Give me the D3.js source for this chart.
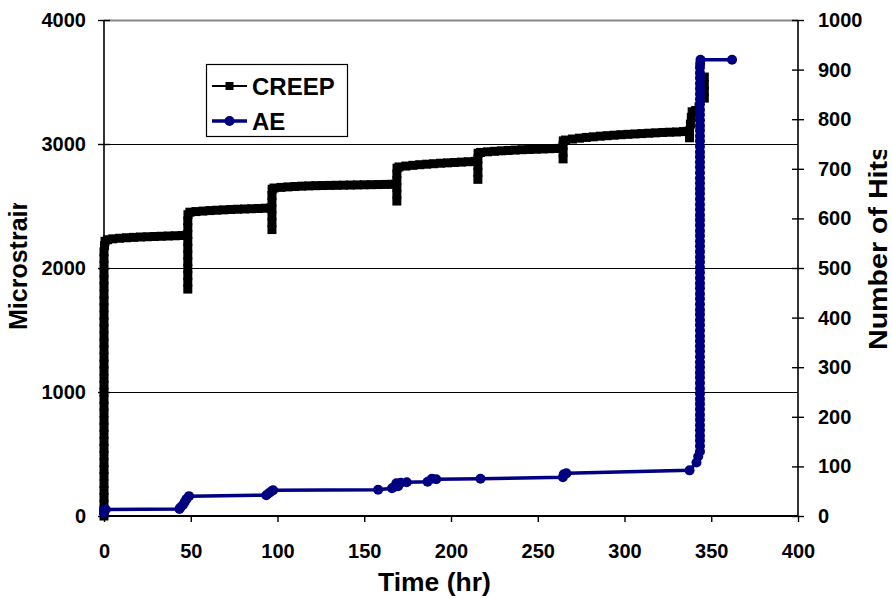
<!DOCTYPE html>
<html><head><meta charset="utf-8">
<script src="https://cdn.jsdelivr.net/npm/d3@7"></script>
<style>body{margin:0;background:#fff}svg{display:block;font-family:"Liberation Sans",Arial,sans-serif;font-weight:bold}</style>
</head><body><svg id="c" width="892" height="598"></svg>
<script>
const xTicks=[0,50,100,150,200,250,300,350,400];
const yLeftTicks=[0,1000,2000,3000,4000];
const yRightTicks=[0,100,200,300,400,500,600,700,800,900,1000];
const seriesNames=["CREEP","AE"];
// CREEP: [time (hr), microstrain]
const creepData=[
[0,0],[0,45],[0,95],[0,150],[0,205],[0,260],[0,320],[0,375],[0,430],[0,490],[0,545],[0,600],[0,660],[0,715],[0,770],[0,830],[0,885],[0,940],[0,1000],[0,1055],[0,1110],[0,1170],[0,1225],[0,1280],[0,1340],[0,1395],[0,1450],[0,1510],[0,1565],[0,1620],[0,1680],[0,1735],[0,1790],[0,1850],[0,1905],[0,1960],[0,2020],[0,2075],[0,2130],[0.3,2180],[0.6,2215],
[2,2228],[5,2235],[9,2240],[13,2244],[17,2247],[21,2250],[25,2252],[29,2254],[33,2256],[37,2258],[41,2260],[45,2262],[47.5,2264],
[48.3,1830],[48.3,1885],[48.3,1940],[48.3,1995],[48.3,2050],[48.3,2105],[48.3,2160],[48.3,2215],[48.3,2270],[48.3,2325],[48.3,2380],[48.4,2430],[49.5,2450],
[53,2455],[57,2459],[61,2463],[65,2466],[69,2469],[73,2472],[77,2474],[81,2476],[85,2478],[89,2480],[93,2482],[96,2484],
[96.8,2310],[96.8,2365],[96.8,2420],[96.8,2475],[96.8,2530],[96.8,2585],[96.9,2635],[98,2645],
[102,2650],[106,2654],[110,2657],[114,2660],[118,2662],[122,2664],[126,2665],[130,2666],[134,2667],[138,2668],[142,2669],[146,2670],[150,2671],[154,2672],[158,2673],[162,2674],[166,2675],[168,2676],
[168.8,2540],[168.8,2595],[168.8,2650],[168.8,2705],[168.8,2760],[168.9,2805],[170,2815],
[174,2822],[178,2828],[182,2833],[186,2837],[190,2841],[194,2845],[198,2848],[202,2851],[206,2854],[210,2857],[214,2860],
[215.5,2715],[215.5,2770],[215.5,2825],[215.5,2880],[215.6,2925],[217,2932],
[221,2937],[225,2941],[229,2945],[233,2948],[237,2951],[241,2954],[245,2956],[249,2958],[253,2960],[257,2962],[261,2964],[263.5,2965],
[264.6,2880],[264.6,2935],[264.6,2990],[264.7,3025],[266,3032],
[270,3040],[274,3047],[278,3053],[282,3058],[286,3063],[290,3067],[294,3071],[298,3075],[302,3078],[306,3081],[310,3084],[314,3087],[318,3090],[322,3093],[326,3095],[330,3097],[334,3100],[336,3102],
[337.5,3050],[337.5,3105],[338,3160],[338.5,3215],[339,3260],[341,3270],[343,3300],
[346,3370],[346,3425],[346,3480],[346,3540]
];
// AE: [time (hr), number of hits]
const aeData=[
[0,6],[0,12],[1,13],[43.5,14],[44,17],[45.5,22],[46.5,28],[47.5,34],[49,40],
[93.5,42],[95,46],[96.5,50],[97.5,52],
[158,53],[166,56],[167.5,59],[168.5,66],[169.5,60],[171,67],[174.5,68],
[186.5,69],[189,75],[191.5,74],
[217,75],
[264.5,78],[265,84],[266.5,86],
[337.5,92],[341.5,108],[342.5,120],
[343.5,130],[343.5,141],[343.5,152],[343.5,162],[343.5,173],[343.5,183],[343.5,194],[343.5,204],[343.5,215],[343.5,226],[343.5,236],[343.5,247],[343.5,257],[343.5,268],[343.5,279],[343.5,289],[343.5,300],[343.5,310],[343.5,321],[343.5,332],[343.5,342],[343.5,353],[343.5,363],[343.5,374],[343.5,385],[343.5,395],[343.5,406],[343.5,416],[343.5,427],[343.5,438],[343.5,448],[343.5,459],[343.5,469],[343.5,480],[343.5,491],[343.5,501],[343.5,512],[343.5,522],[343.5,533],[343.5,544],[343.5,554],[343.5,565],[343.5,575],[343.5,586],[343.5,597],[343.5,607],[343.5,618],[343.5,628],[343.5,639],[343.5,650],[343.5,660],[343.5,671],[343.5,681],[343.5,692],[343.5,703],[343.5,713],[343.5,724],[343.5,734],[343.5,745],[343.5,756],[343.5,766],[343.5,777],[343.5,787],[343.5,798],[343.5,809],[343.5,819],[343.5,830],[343.5,840],[343.5,851],[343.5,862],[343.5,872],[343.5,883],[343.5,893],[343.5,904],[343.6,912],[343.8,920],
[362,920]
];

const svg=d3.select("#c");
const L=104,R=798,T=20,B=516;
const x=d3.scaleLinear([0,400],[L,R]);
const yL=d3.scaleLinear([0,4000],[B,T]);
const yR=d3.scaleLinear([0,1000],[B,T]);

// gridlines
svg.append("g").selectAll("line").data(yLeftTicks.filter(d=>d>0)).join("line")
 .attr("x1",L).attr("x2",R).attr("y1",d=>Math.round(yL(d))+0.5).attr("y2",d=>Math.round(yL(d))+0.5)
 .attr("stroke",d=>d===4000?"#888":"#000").attr("stroke-width",d=>d===4000?2:1);

// axes
const fs="20px";
const gx=svg.append("g").attr("transform",`translate(0,${B})`)
 .call(d3.axisBottom(x).tickValues(xTicks).tickSize(6).tickPadding(22).tickFormat(d3.format("d")));
const gl=svg.append("g").attr("transform",`translate(${L},0)`)
 .call(d3.axisLeft(yL).tickValues(yLeftTicks).tickSize(6).tickPadding(12).tickFormat(d3.format("d")));
const gr=svg.append("g").attr("transform",`translate(${R},0)`)
 .call(d3.axisRight(yR).tickValues(yRightTicks).tickSize(6).tickPadding(14).tickFormat(d3.format("d")));
[gx,gl,gr].forEach(g=>{
 g.select(".domain").attr("stroke","#000").attr("stroke-width",1.6);
 g.selectAll(".tick line").attr("stroke","#000").attr("stroke-width",1.4);
 g.selectAll("text").attr("font-size",fs).attr("font-weight","bold").attr("font-family","Liberation Sans, Arial, sans-serif").attr("fill","#000");
});
gl.select(".domain").attr("d",`M0,${B}V${T}`);
gr.select(".domain").attr("d",`M0,${B}V${T}`);
gx.select(".domain").attr("d",`M${L},0H${R}`).attr("stroke-width",2);
gl.selectAll(".tick line").attr("x1",6);
gr.selectAll(".tick line").attr("x1",-6);

// creep series
const lineC=d3.line().x(d=>x(d[0])).y(d=>yL(d[1]));
svg.append("path").datum(creepData).attr("d",lineC).attr("fill","none").attr("stroke","#000").attr("stroke-width",2);
const ms=9;
svg.append("g").selectAll("rect").data(creepData).join("rect")
 .attr("x",d=>x(d[0])-ms/2).attr("y",d=>yL(d[1])-ms/2).attr("width",ms).attr("height",ms).attr("fill","#000");

// AE series
const blue="#000080";
const lineA=d3.line().x(d=>x(d[0])).y(d=>yR(d[1]));
svg.append("path").datum(aeData).attr("d",lineA).attr("fill","none").attr("stroke",blue).attr("stroke-width",3.5);
svg.append("g").selectAll("circle").data(aeData).join("circle")
 .attr("cx",d=>x(d[0])).attr("cy",d=>yR(d[1])).attr("r",5).attr("fill",blue);

// legend
const lg=svg.append("g");
lg.append("rect").attr("x",206.5).attr("y",64.5).attr("width",141).attr("height",72).attr("fill","#fff").attr("stroke","#000").attr("stroke-width",1.2);
const rows=[{n:seriesNames[0],y:86,c:"#000",m:"sq",w:2},{n:seriesNames[1],y:121,c:blue,m:"ci",w:3.5}];
rows.forEach(r=>{
 lg.append("line").attr("x1",212).attr("x2",247).attr("y1",r.y).attr("y2",r.y).attr("stroke",r.c).attr("stroke-width",r.w);
 if(r.m==="sq") lg.append("rect").attr("x",229.5-4).attr("y",r.y-4).attr("width",8).attr("height",8).attr("fill",r.c);
 else lg.append("circle").attr("cx",229.5).attr("cy",r.y).attr("r",5).attr("fill",r.c);
 lg.append("text").attr("x",252).attr("y",r.y+8.5).attr("font-size","24px").attr("font-weight","bold").attr("fill","#000").text(r.n);
});

// axis titles
const defs=svg.append("defs");
defs.append("clipPath").attr("id","clipL").append("rect").attr("x",0).attr("y",203).attr("width",60).attr("height",200);
defs.append("clipPath").attr("id","clipR").append("rect").attr("x",850).attr("y",150).attr("width",42).attr("height",250);
svg.append("g").attr("clip-path","url(#clipL)").append("text")
 .attr("transform","translate(27,330) rotate(-90)").attr("font-size","25px").attr("font-weight","bold").text("Microstrain");
svg.append("g").attr("clip-path","url(#clipR)").append("text")
 .attr("transform","translate(887,350) rotate(-90) scale(1.1,1)").attr("font-size","26px").attr("font-weight","bold").text("Number of Hits");
svg.append("text").attr("transform","translate(378,591) scale(1.06,1)").attr("font-size","25px").attr("font-weight","bold").text("Time (hr)");
</script></body></html>
